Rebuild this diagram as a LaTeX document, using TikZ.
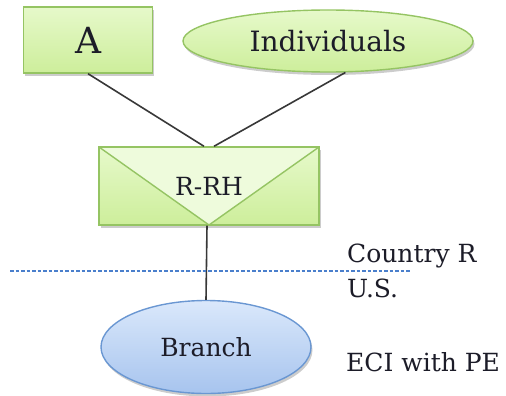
\documentclass[tikz,border=0pt]{standalone}
\usepackage{fontspec}
\setmainfont{DejaVu Serif}
\usetikzlibrary{shapes.geometric,shadows}
\definecolor{greentop}{HTML}{E6F9CA}
\definecolor{greenbottom}{HTML}{CDEE9B}
\definecolor{greenedge}{HTML}{95C463}
\definecolor{vgreen}{HTML}{EEFBDC}
\definecolor{bluetop}{HTML}{DAE8FB}
\definecolor{bluebottom}{HTML}{A7C4EE}
\definecolor{blueedge}{HTML}{6A97D2}
\definecolor{dashblue}{HTML}{4A7FCC}
\definecolor{inkdark}{HTML}{1C1C28}

\begin{document}
\begin{tikzpicture}[x=1pt,y=-1pt, % pixel grid, y down
	font=\fontsize{25}{30}\selectfont,
	text=inkdark,
	myshadow/.style={drop shadow={shadow xshift=1.5pt,shadow yshift=-3pt,opacity=.4,fill=black!50}},
	greenbox/.style={rectangle,draw=greenedge,line width=1.4pt,top color=greentop,bottom color=greenbottom,myshadow},
	greenoval/.style={ellipse,draw=greenedge,line width=1.4pt,top color=greentop,bottom color=greenbottom,inner sep=0pt,myshadow},
	blueoval/.style={ellipse,draw=blueedge,line width=1.4pt,top color=bluetop,bottom color=bluebottom,inner sep=0pt,myshadow},
	vbox/.style={greenbox,path picture={
		\fill[vgreen] (path picture bounding box.north west) -- (path picture bounding box.south)
			-- (path picture bounding box.north east) -- cycle;
		\draw[greenedge,line width=1.4pt] (path picture bounding box.north west) -- (path picture bounding box.south)
			-- (path picture bounding box.north east);}},
	link/.style={draw=black!78,line width=1.6pt},
	border/.style={draw=dashblue,line width=1.2pt,dash pattern=on 3.5pt off 2pt},
	side/.style={anchor=base west,inner sep=0pt}]
	\useasboundingbox (0,0) rectangle (506,396);

	\node[greenbox,minimum width=129pt,minimum height=66pt,font=\fontsize{36}{40}\selectfont] (a) at (88,40) {A};
	\node[greenoval,minimum width=290pt,minimum height=62pt,font=\fontsize{28}{32}\selectfont] (ind) at (328,41) {Individuals};
	\node[vbox,minimum width=220pt,minimum height=78pt] (rrh) at (209,186) {R-RH};
	\node[blueoval,minimum width=210pt,minimum height=93pt] (branch) at (206,347) {Branch};

	\draw[link] (a.south) -- ([xshift=-5pt]rrh.north);
	\draw[link] (ind.-61) -- ([xshift=5pt]rrh.north);
	\draw[link] ([xshift=-2pt]rrh.south) -- (branch.north);

	% country border
	\coordinate (bw) at (10,271);
	\coordinate (be) at (410,271);
	\draw[border] (bw) -- (be);

	\node[side] (country) at (347,262) {Country R};
	\node[side] (us) at (347,297) {U.S.};
	\node[side] (eci) at (346,371) {ECI with PE};
\end{tikzpicture}
\end{document}
